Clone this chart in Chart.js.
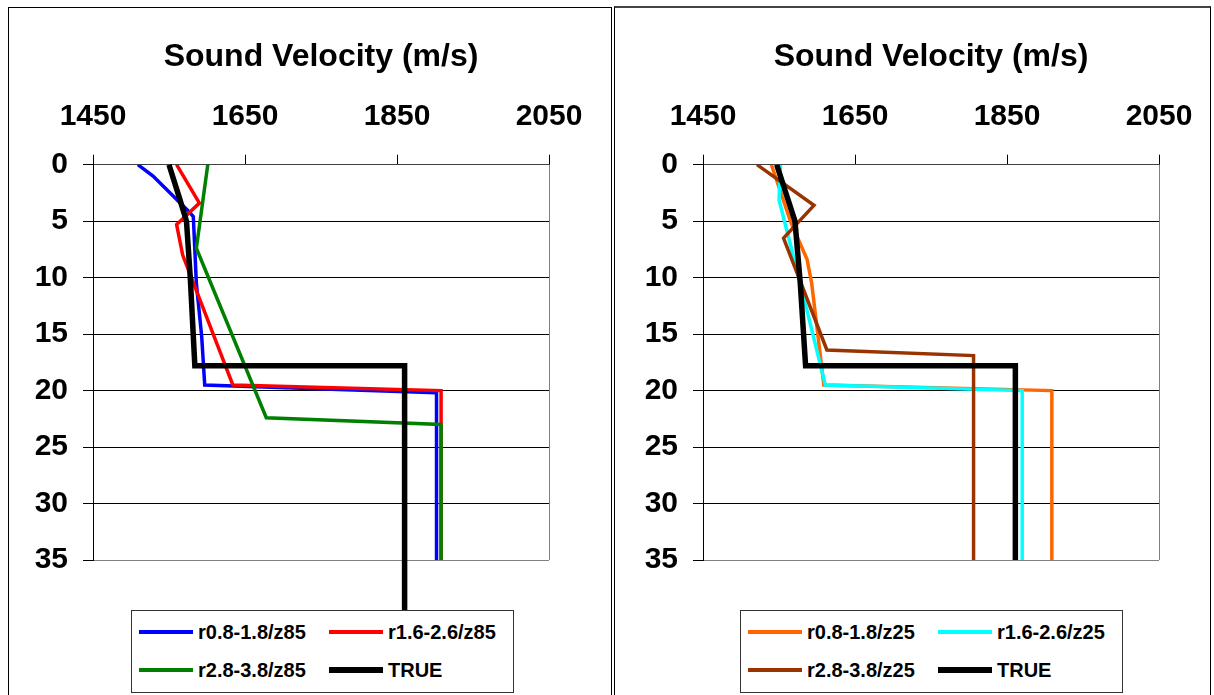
<!DOCTYPE html>
<html>
<head>
<meta charset="utf-8">
<script src="https://cdn.jsdelivr.net/npm/chart.js@4.4.1/dist/chart.umd.min.js"></script>
<style>
  html, body { margin: 0; padding: 0; background: #fff; }
  body { width: 1214px; height: 695px; position: relative; overflow: hidden; font-family: 'Liberation Sans', Arial, sans-serif; }
  .panel { position: absolute; border: 1px solid #000; box-sizing: border-box; }
  #panelL { left: 8px; top: 7px; width: 604px; height: 720px; }
  #panelR { left: 614px; top: 6px; width: 597px; height: 720px; border-top: 2px solid #444; }
  canvas { position: absolute; top: 8px; }
  #chartL { left: 9px; }
  #chartR { left: 619px; }
  .legend { position: absolute; top: 610px; width: 383px; height: 83px; background: #fff; border: 1px solid #333; box-sizing: border-box; z-index: 2; }
  .item { position: absolute; height: 30px; display: flex; align-items: center; font-weight: bold; font-size: 20px; color: #000; white-space: nowrap; }
  .swatch { width: 54px; margin-right: 5px; }
</style>
</head>
<body>
<div class="panel" id="panelL"></div>
<div class="panel" id="panelR"></div>
<canvas id="chartL" width="595" height="687"></canvas>
<canvas id="chartR" width="595" height="687"></canvas>
<div class="legend" id="legendL" style="left:131px"></div>
<div class="legend" id="legendR" style="left:740px"></div>
<script>
// Sound velocity profiles: depth (y, reversed) vs velocity (x, top axis)
const xTicks = [1450, 1650, 1850, 2050];

// left panel (z85)
const depthR08z85 = [0, 1, 4.2, 4.6, 10.5, 15.2, 19.5, 20.2, 35];
const velR08z85   = [1509, 1529, 1577, 1582, 1586, 1593, 1597, 1902, 1902];
const depthR16z85 = [0, 3.4, 5.3, 8, 19.5, 20, 35];
const velR16z85   = [1560, 1590, 1560, 1568, 1634, 1908, 1908];
const depthR28z85 = [0, 7.4, 22.4, 23, 35];
const velR28z85   = [1601, 1586, 1678, 1908, 1908];
const depthTrueL  = [0, 3, 5, 10, 17.8, 17.8, 40];
const velTrueL    = [1550, 1564, 1573, 1578, 1584, 1860, 1860];

// right panel (z25)
const depthR08z25 = [0, 5, 8.4, 10.5, 19.5, 20, 35];
const velR08z25   = [1540, 1565, 1587, 1593, 1609, 1909, 1909];
const depthR16z25 = [0, 3.1, 10.5, 19.5, 20, 35];
const velR16z25   = [1552, 1550, 1578, 1611, 1870, 1870];
const depthR28z25 = [0, 3.6, 6.5, 16.4, 16.9, 35];
const velR28z25   = [1521, 1596, 1556, 1613, 1806, 1806];
const depthTrueR  = [0, 5, 10.5, 17.8, 17.8, 35];
const velTrueR    = [1547, 1571, 1578, 1585, 1861, 1861];

Chart.defaults.font.family = "'Liberation Sans', Arial, sans-serif";
Chart.defaults.color = '#000';

const pts = (depth, vel) => depth.map((d, i) => ({ x: vel[i], y: d }));

function series(label, depth, vel, color, width, order, extra) {
  return Object.assign({
    label,
    data: pts(depth, vel),
    borderColor: color,
    backgroundColor: color,
    borderWidth: width,
    pointRadius: 0,
    fill: false,
    tension: 0,
    order
  }, extra || {});
}

function makeChart(id, datasets) {
  return new Chart(document.getElementById(id), {
    type: 'line',
    data: { datasets },
    options: {
      responsive: false,
      animation: false,
      events: [],
      layout: { padding: { left: 14, right: 55, top: 0, bottom: 135 } },
      plugins: {
        legend: { display: false },
        tooltip: { enabled: false },
        title: {
          display: true,
          text: 'Sound Velocity (m/s)',
          fullSize: false,
          color: '#000',
          font: { size: 32, weight: 'bold' },
          padding: { top: 30, bottom: 8 }
        }
      },
      scales: {
        x: {
          type: 'linear',
          position: 'top',
          min: 1450,
          max: 2050,
          afterBuildTicks: (s) => { s.ticks = xTicks.map(v => ({ value: v })); },
          afterFit: (s) => { s.height = 80.3; },
          ticks: {
            color: '#000',
            font: { size: 30, weight: 'bold' },
            padding: 20,
            maxRotation: 0,
            autoSkip: false,
            callback: (v) => String(v)
          },
          grid: {
            drawOnChartArea: true,
            color: (c) => c.index === xTicks.length - 1 ? '#808080' : 'rgba(0,0,0,0)',
            tickColor: '#000',
            tickLength: 10,
            lineWidth: 1
          },
          border: { color: '#404040' }
        },
        y: {
          type: 'linear',
          reverse: true,
          min: 0,
          max: 35,
          afterFit: (s) => { s.width = 70; },
          ticks: { stepSize: 5, color: '#000', font: { size: 30, weight: 'bold' }, padding: 15 },
          grid: {
            color: (c) => (c.tick && c.tick.value === 35) ? '#808080' : '#000',
            tickColor: '#000',
            tickLength: 10,
            lineWidth: 1
          },
          border: { color: '#000' }
        }
      }
    }
  });
}

const setsL = [
  series('r0.8-1.8/z85', depthR08z85, velR08z85, '#0000FF', 3.5, 3),
  series('r1.6-2.6/z85', depthR16z85, velR16z85, '#FF0000', 3.5, 2),
  series('r2.8-3.8/z85', depthR28z85, velR28z85, '#008000', 3.5, 1),
  series('TRUE', depthTrueL, velTrueL, '#000000', 5.5, 0, { clip: false })
];
const setsR = [
  series('r0.8-1.8/z25', depthR08z25, velR08z25, '#FF6600', 3.5, 3),
  series('r1.6-2.6/z25', depthR16z25, velR16z25, '#00FFFF', 3.5, 2),
  series('r2.8-3.8/z25', depthR28z25, velR28z25, '#993300', 3.5, 1),
  series('TRUE', depthTrueR, velTrueR, '#000000', 5.5, 0)
];

makeChart('chartL', setsL);
makeChart('chartR', setsR);

// boxed two-column legend under each plot
function buildLegend(id, sets) {
  const box = document.getElementById(id);
  const cols = [7, 197];
  const rows = [6, 44];
  sets.forEach((ds, i) => {
    const item = document.createElement('div');
    item.className = 'item';
    item.style.left = cols[i % 2] + 'px';
    item.style.top = rows[Math.floor(i / 2)] + 'px';
    const sw = document.createElement('span');
    sw.className = 'swatch';
    sw.style.height = (ds.label === 'TRUE' ? 6 : 4) + 'px';
    sw.style.background = ds.borderColor;
    const txt = document.createElement('span');
    txt.textContent = ds.label;
    item.appendChild(sw);
    item.appendChild(txt);
    box.appendChild(item);
  });
}
buildLegend('legendL', setsL);
buildLegend('legendR', setsR);
</script>
</body>
</html>
